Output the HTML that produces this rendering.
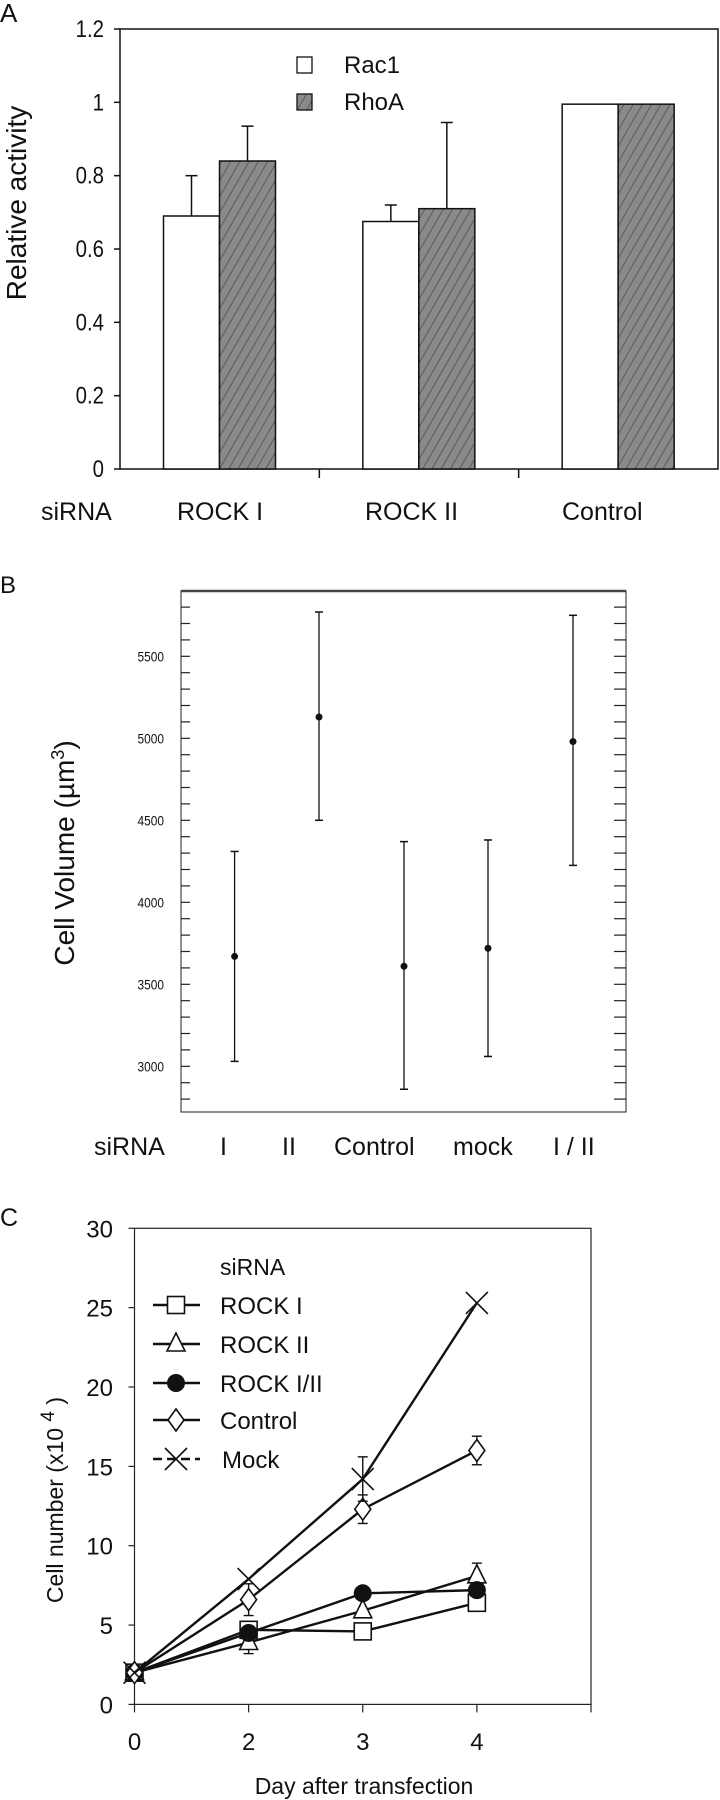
<!DOCTYPE html>
<html><head><meta charset="utf-8"><style>
html,body{margin:0;padding:0;background:#fff}
svg{display:block}
text{font-family:"Liberation Sans",Arial,sans-serif;fill:#111}
</style></head><body>
<svg id="fig" width="720" height="1800" viewBox="0 0 720 1800" xmlns="http://www.w3.org/2000/svg">
<defs>
<pattern id="hatch" width="8" height="8" patternUnits="userSpaceOnUse" patternTransform="rotate(30)">
<rect width="8" height="8" fill="#8a8a8a"/>
<line x1="0" y1="0" x2="0" y2="8" stroke="#5a5a5a" stroke-width="2"/>
</pattern>
</defs>
<g id="panelA"></g>
<g id="panelB"></g>
<g id="panelC"></g>
</svg>
<script>
// ---------- Panel A data ----------
const aCategories = ["ROCK I", "ROCK II", "Control"];
const aRac1 = [0.69, 0.675, 0.995];
const aRac1Err = [0.80, 0.72, null];
const aRhoA = [0.84, 0.71, 0.995];
const aRhoAErr = [0.935, 0.945, null];
const aTicks = ["0", "0.2", "0.4", "0.6", "0.8", "1", "1.2"];
// ---------- Panel B data ----------
const bCategories = ["I", "II", "Control", "mock", "I / II"];
const bMeans = [3670, 5130, 3610, 3720, 4980];
const bLow = [3030, 4500, 2860, 3060, 4225];
const bHigh = [4310, 5770, 4370, 4380, 5750];
const bTicks = [3000, 3500, 4000, 4500, 5000, 5500];
// ---------- Panel C data ----------
const cDays = ["0", "2", "3", "4"];
const cRock1 = [2.0, 4.7, 4.6, 6.4];
const cRock2 = [2.0, 3.9, 5.9, 8.1];
const cRock12 = [2.0, 4.5, 7.0, 7.2];
const cControl = [2.0, 6.6, 12.3, 16.0];
const cMock = [2.0, 7.9, 14.2, 25.3];
const cControlErr = [null, 1.0, 0.9, 0.9];
const cMockErr = [null, null, 1.4, null];
const cRock2Err = [null, 0.7, null, 0.8];
const cYTicks = [0, 5, 10, 15, 20, 25, 30];

const NS = "http://www.w3.org/2000/svg";
function mk(parent, tag, attrs, txt){
  const e = document.createElementNS(NS, tag);
  for (const k in attrs) e.setAttribute(k, attrs[k]);
  if (txt !== undefined) e.textContent = txt;
  parent.appendChild(e);
  return e;
}

// ================= Panel A =================
(function(){
  const g = document.getElementById('panelA');
  const L=120, R=718, T=29, B=469;
  const y = v => B - v/1.2*(B-T);
  const catW = (R-L)/aCategories.length;
  const bw = 56;
  let t = mk(g,'text',{x:0,y:22,'font-size':26});
    t.textContent='A';
  let fr = mk(g,'rect',{x:L,y:T,width:R-L,height:B-T,fill:'none',stroke:'#111','stroke-width':1.5});
   
  aTicks.forEach((lab,i)=>{
    const v = parseFloat(lab), yy = y(v);
    const tk = mk(g,'line',{x1:L-6,x2:L,y1:yy,y2:yy,stroke:'#111','stroke-width':1.5});
     
    const tl = mk(g,'text',{x:L-16,y:yy+8,'font-size':24,'text-anchor':'end',transform:`translate(${L-16},0) scale(0.85,1) translate(${-(L-16)},0)`},lab);
     
  });
  const yt = mk(g,'text',{x:0,y:0,'font-size':28,'text-anchor':'middle',transform:`translate(26,203) rotate(-90)`},'Relative activity');
   
  for (let i=1;i<aCategories.length;i++){
    const xx = L + i*catW;
    const s = mk(g,'line',{x1:xx,x2:xx,y1:B,y2:B+9,stroke:'#111','stroke-width':1.5});
     
  }
  aCategories.forEach((c,i)=>{
    const x0 = L + i*catW + 43.5;
    const r1 = mk(g,'rect',{x:x0,y:y(aRac1[i]),width:bw,height:B-y(aRac1[i]),fill:'#fff',stroke:'#111','stroke-width':1.5});
     
    const r2 = mk(g,'rect',{x:x0+bw,y:y(aRhoA[i]),width:bw,height:B-y(aRhoA[i]),fill:'url(#hatch)',stroke:'#111','stroke-width':1.5});
     
    [[aRac1Err[i],aRac1[i],x0+bw/2],[aRhoAErr[i],aRhoA[i],x0+bw*1.5]].forEach(([e,v,cx])=>{
      if (e===null) return;
      const l = mk(g,'line',{x1:cx,x2:cx,y1:y(e),y2:y(v),stroke:'#111','stroke-width':1.5});
       
      const c2 = mk(g,'line',{x1:cx-6,x2:cx+6,y1:y(e),y2:y(e),stroke:'#111','stroke-width':1.5});
       
    });
  });
  const labX=[177,365,562];
  const sl = mk(g,'text',{x:41,y:520,'font-size':25},'siRNA');
   
  aCategories.forEach((c,i)=>{
    const xl = mk(g,'text',{x:labX[i],y:520,'font-size':25},c);
     
  });
  const lg1 = mk(g,'rect',{x:297,y:57,width:15,height:16,fill:'#fff',stroke:'#111','stroke-width':1.3});
   
  const lt1 = mk(g,'text',{x:344,y:73,'font-size':24},'Rac1');
   
  const lg2 = mk(g,'rect',{x:297,y:94,width:15,height:16,fill:'url(#hatch)',stroke:'#111','stroke-width':1.3});
   
  const lt2 = mk(g,'text',{x:344,y:110,'font-size':24},'RhoA');
   
})();

// ================= Panel B =================
(function(){
  const g = document.getElementById('panelB');
  const L=181, R=626, T=591, B=1112;
  const y = v => 984.3 - (v-3500)/500*82;
  const xs = [234.6,319,404,488,573];
  const t = mk(g,'text',{x:0,y:593,'font-size':24},'B');
   
  const fr = mk(g,'rect',{x:L,y:T,width:R-L,height:B-T,fill:'none',stroke:'#222','stroke-width':1});
   
  const top = mk(g,'line',{x1:L,x2:R,y1:T,y2:T,stroke:'#444','stroke-width':2.5});
   
  for (let v=2700; v<=5900; v+=100){
    const yy=y(v); if (yy<T+2||yy>B-2) continue;
    const a = mk(g,'line',{x1:L,x2:L+9,y1:yy,y2:yy,stroke:'#222','stroke-width':1.2});
     
    const b = mk(g,'line',{x1:R-12,x2:R,y1:yy,y2:yy,stroke:'#222','stroke-width':1.2});
     
  }
  bTicks.forEach(v=>{
    const tl = mk(g,'text',{x:164,y:y(v)+5,'font-size':14,'text-anchor':'end',transform:`translate(164,0) scale(0.85,1) translate(-164,0)`},String(v));
     
  });
  const yt = mk(g,'text',{x:0,y:0,'font-size':28,'text-anchor':'middle',transform:'translate(74,853) rotate(-90)'});
   
  yt.textContent='Cell Volume (µm';
  mk(yt,'tspan',{dy:-10,'font-size':18},'3');
  mk(yt,'tspan',{dy:10},')');
  bCategories.forEach((c,i)=>{
    const cx = xs[i];
    const l = mk(g,'line',{x1:cx,x2:cx,y1:y(bHigh[i]),y2:y(bLow[i]),stroke:'#111','stroke-width':1.3});
     
    [bHigh[i],bLow[i]].forEach(v=>{
      const cp = mk(g,'line',{x1:cx-4,x2:cx+4,y1:y(v),y2:y(v),stroke:'#111','stroke-width':1.5});
       
    });
    const p = mk(g,'circle',{cx:cx,cy:y(bMeans[i]),r:3.5,fill:'#111'});
     
  });
  const labX=[220,282,334,453,553];
  const sl = mk(g,'text',{x:94,y:1155,'font-size':25},'siRNA');
   
  bCategories.forEach((c,i)=>{
    const xl = mk(g,'text',{x:labX[i],y:1155,'font-size':25},c);
     
  });
})();

// ================= Panel C =================
(function(){
  const g = document.getElementById('panelC');
  const L=134.5, R=591, T=1228.3, B=1704.4;
  const step = (R-L)/4;
  const x = i => L + i*step;
  const y = v => B - v/30*(B-T);
  const t = mk(g,'text',{x:0,y:1226,'font-size':25},'C');
   
  const fr = mk(g,'rect',{x:L,y:T,width:R-L,height:B-T,fill:'none',stroke:'#222','stroke-width':1.2});
   
  cYTicks.forEach(v=>{
    const tk = mk(g,'line',{x1:L-6,x2:L,y1:y(v),y2:y(v),stroke:'#222','stroke-width':1.2});
     
    const tl = mk(g,'text',{x:113,y:y(v)+9,'font-size':24,'text-anchor':'end'},String(v));
     
  });
  for (let i=0;i<=4;i++){
    const tk = mk(g,'line',{x1:x(i),x2:x(i),y1:B,y2:B+8,stroke:'#222','stroke-width':1.2});
     
  }
  cDays.forEach((d,i)=>{
    const tl = mk(g,'text',{x:x(i),y:1750,'font-size':24,'text-anchor':'middle'},d);
     
  });
  const xt = mk(g,'text',{x:364,y:1794,'font-size':23,'text-anchor':'middle'},'Day after transfection');
   
  const yt = mk(g,'text',{x:0,y:0,'font-size':23,'text-anchor':'middle',transform:'translate(63,1500) rotate(-90)'});
   
  yt.textContent='Cell number (x10 ';
  mk(yt,'tspan',{dy:-9,'font-size':19},'4');
  mk(yt,'tspan',{dy:9},' )');

  function marker(parent, type, cx, cy){
    const st = {stroke:'#111','stroke-width':1.6};
    let m;
    if (type==='square') m = mk(parent,'rect',Object.assign({x:cx-8.5,y:cy-8.5,width:17,height:17,fill:'#fff'},st));
    else if (type==='triangle') m = mk(parent,'polygon',Object.assign({points:`${cx},${cy-11} ${cx-9},${cy+7} ${cx+9},${cy+7}`,fill:'#fff'},st));
    else if (type==='circle') m = mk(parent,'circle',{cx:cx,cy:cy,r:9,fill:'#111'});
    else if (type==='diamond') m = mk(parent,'polygon',Object.assign({points:`${cx},${cy-11} ${cx+8},${cy} ${cx},${cy+11} ${cx-8},${cy}`,fill:'#fff'},st));
    else { m = mk(parent,'path',Object.assign({d:`M${cx-11},${cy-11}L${cx+11},${cy+11}M${cx+11},${cy-11}L${cx-11},${cy+11}`,fill:'none'},st)); }
    return m;
  }
  const series = [
    ['rock-i', cRock1, 'square', null],
    ['rock-ii', cRock2, 'triangle', cRock2Err],
    ['rock-i-ii', cRock12, 'circle', null],
    ['control', cControl, 'diamond', cControlErr],
    ['mock', cMock, 'x', cMockErr]
  ];
  series.forEach(([nm, vals, mt, err])=>{
    const sg = mk(g,'g',{});
     
    const pts = vals.map((v,i)=>`${x(i)},${y(v)}`).join(' ');
    const pl = mk(sg,'polyline',{points:pts,fill:'none',stroke:'#111','stroke-width':2.4});
     
    if (err) err.forEach((e,i)=>{
      if (e===null) return;
      const cx=x(i), v=vals[i];
      const el = mk(sg,'line',{x1:cx,x2:cx,y1:y(v+e),y2:y(v-e),stroke:'#111','stroke-width':1.4});
       
      [v+e,v-e].forEach(w=>{
        const c=mk(sg,'line',{x1:cx-5,x2:cx+5,y1:y(w),y2:y(w),stroke:'#111','stroke-width':1.4});
         
      });
    });
    vals.forEach((v,i)=>{
      const m = marker(sg, mt, x(i), y(v));
      
      
    });
  });
  // legend
  const lg = mk(g,'g',{});
   
  const lt = mk(lg,'text',{x:220,y:1275,'font-size':23},'siRNA');
   
  const legNames = ['ROCK I','ROCK II','ROCK I/II','Control','Mock'];
  const legY = [1305,1344,1383,1420,1459];
  series.forEach(([nm,vals,mt],i)=>{
    const ln = mk(lg,'line',{x1:153,x2:200,y1:legY[i],y2:legY[i],stroke:'#111','stroke-width':2.4,'stroke-dasharray':mt==='x'?'9,5':'none'});
     
    const m = marker(lg, mt, 176, legY[i]);
    
    
    const tx = mk(lg,'text',{x:mt==='x'?222:220,y:legY[i]+9,'font-size':24},legNames[i]);
     
  });
})();
</script>
</body></html>
